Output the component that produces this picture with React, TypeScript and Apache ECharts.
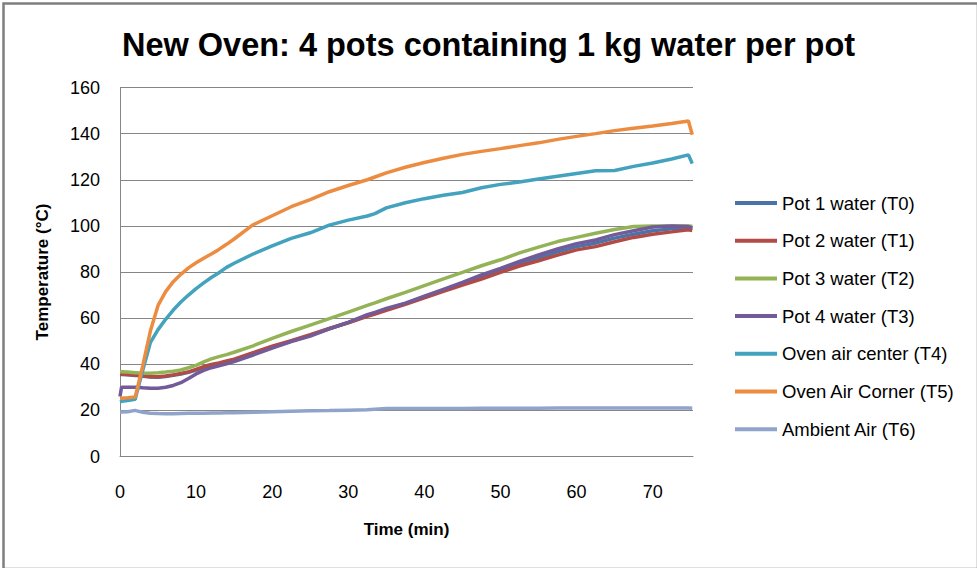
import React, { useEffect, useRef } from "react";
import * as echarts from "echarts";

const TITLE = "New Oven: 4 pots containing 1 kg water per pot";
const X_NAME = "Time (min)";
const Y_NAME = "Temperature (°C)";

const seriesNames = [
  "Pot 1 water (T0)",
  "Pot 2 water (T1)",
  "Pot 3 water (T2)",
  "Pot 4 water (T3)",
  "Oven air center (T4)",
  "Oven Air Corner (T5)",
  "Ambient Air (T6)",
];

const seriesColors = ["#4A74A8", "#B24A46", "#93B356", "#735A98", "#43A2BD", "#EC8C40", "#8FA3CB"];

// time in minutes
const time = [
  0, 0.2, 1, 2, 2.2, 3, 4, 5, 6, 7, 8, 9, 10, 11, 12, 13, 14, 15, 17.5, 20, 22.5, 25, 27.5, 30, 32.5, 33.5, 35,
  37.5, 40, 42.5, 45, 47.5, 50, 52.5, 55, 57.5, 60, 62.5, 65, 67.5, 70, 72.5, 74.7, 75.2,
];

const pot1 = [
  35.6, 35.6, 35.4, 35.1, 35.1, 34.8, 34.5, 34.4, 34.7, 35.2, 35.8, 36.5, 37.5, 38.6, 39.5, 40.2, 41, 41.8, 44.6, 47.4,
  50, 52.5, 55.4, 58.1, 61.1, 62.1, 63.8, 66.3, 69.2, 72, 74.9, 77.8, 80.7, 83.6, 86.2, 88.7, 91, 92.5, 94.7, 96.4, 97.9,
  98.7, 99, 98.5,
];

const pot2 = [
  35.8, 35.8, 35.6, 35.3, 35.3, 35, 34.6, 34.6, 34.9, 35.4, 36, 36.7, 37.8, 39, 39.9, 40.6, 41.4, 42.2, 45, 47.8, 50.2,
  52.8, 55.5, 58, 60.8, 61.8, 63.4, 66, 68.8, 71.6, 74.3, 76.9, 79.8, 82.6, 84.9, 87.3, 89.6, 91, 93.1, 95, 96.4, 97.4,
  98.3, 98,
];

const pot3 = [
  36.8, 36.8, 36.6, 36.3, 36.3, 36.1, 36.1, 36.3, 36.6, 37, 37.5, 38.5, 39.5, 41, 42.3, 43.3, 44.2, 45.2, 48, 51.2, 54.2,
  57, 59.8, 62.6, 65.5, 66.6, 68.4, 71.2, 74.1, 77, 79.8, 82.7, 85.3, 88.3, 90.8, 93.2, 95, 96.8, 98.4, 99.7, 100, 100,
  100, 99.8,
];

const pot4 = [
  26, 30, 30, 30, 30, 29.8, 29.6, 29.6, 30, 30.8, 32, 33.8, 35.8, 37.3, 38.5, 39.3, 40.2, 41.2, 44, 47, 49.8, 52.2, 55.3,
  58.2, 61.5, 62.5, 64.2, 66.5, 69.5, 72.5, 75.5, 78.7, 81.6, 84.6, 87.4, 90, 92.3, 93.9, 96.2, 97.9, 99.5, 99.9, 99.7,
  99,
];

const ovenCenter = [
  23.7, 23.9, 24.3, 24.8, 27.5, 37.5, 49.5, 55, 59.5, 63.5, 67, 70, 72.8, 75.3, 77.6, 79.7, 82, 83.8, 87.8, 91.3, 94.6,
  97, 100.3, 102.5, 104.3, 105.3, 107.8, 110, 111.8, 113.3, 114.5, 116.5, 118, 119, 120.3, 121.5, 122.7, 123.9, 124,
  125.8, 127.3, 129, 130.8, 127,
];

const ovenCorner = [
  25.3, 25.3, 25.5, 25.8, 28.5, 39.5, 54.5, 65.5, 71.5, 75.8, 79, 81.8, 84, 86, 87.8, 89.8, 92, 94.3, 100.5, 104.4, 108.3,
  111.4, 114.8, 117.5, 120, 121.2, 123, 125.4, 127.5, 129.3, 131, 132.3, 133.5, 134.8, 136, 137.5, 138.8, 140, 141.3,
  142.3, 143.3, 144.4, 145.5, 139.5,
];

const ambient = [
  19.3, 19.3, 19.4, 20, 19.8, 19.2, 18.8, 18.6, 18.5, 18.5, 18.6, 18.7, 18.8, 18.8, 18.9, 18.9, 19, 19, 19.2, 19.4, 19.6,
  19.8, 19.9, 20.1, 20.3, 20.5, 20.8, 20.8, 20.8, 20.8, 20.8, 20.9, 20.9, 20.9, 20.9, 21, 21, 21, 21, 21, 21, 21, 21,
  20.9,
];

const seriesValues = [pot1, pot2, pot3, pot4, ovenCenter, ovenCorner, ambient];

const FONT = '"Liberation Sans", Arial, sans-serif';
const GRID_COLOR = "#868686";

export default function App() {
  const ref = useRef<HTMLDivElement>(null);

  useEffect(() => {
    if (!ref.current) return;
    const chart = echarts.init(ref.current, undefined, { renderer: "svg" });

    const series = seriesNames.map((name, i) => ({
      name,
      type: "line",
      data: time.map((t, k) => [t, seriesValues[i][k]]),
      showSymbol: false,
      symbol: "none",
      smooth: false,
      color: seriesColors[i],
      lineStyle: { width: 3.5, color: seriesColors[i] },
      z: 2 + i,
    }));

    chart.setOption({
      animation: false,
      backgroundColor: "#ffffff",
      textStyle: { fontFamily: FONT },
      title: {
        text: TITLE,
        left: "center",
        top: 23,
        textStyle: { fontFamily: FONT, fontSize: 32.5, fontWeight: "bold", color: "#000000" },
      },
      legend: {
        orient: "vertical",
        left: 730,
        top: 188,
        icon: "rect",
        itemWidth: 42,
        itemHeight: 4,
        itemGap: 17.7,
        textStyle: { fontFamily: FONT, fontSize: 18.5, color: "#000000", lineHeight: 20 },
        data: seriesNames,
      },
      grid: { left: 120, top: 87.5, width: 573, height: 369, containLabel: false },
      xAxis: {
        type: "value",
        min: 0,
        max: 75.3,
        interval: 10,
        name: X_NAME,
        nameLocation: "middle",
        nameGap: 64,
        nameTextStyle: { fontFamily: FONT, fontSize: 17, fontWeight: "bold", color: "#000000" },
        axisLine: { show: true, lineStyle: { color: GRID_COLOR, width: 1 } },
        axisTick: { show: false },
        splitLine: { show: false },
        axisLabel: {
          margin: 26,
          fontFamily: FONT,
          fontSize: 18,
          color: "#000000",
          formatter: (v: number) => (Math.abs(v % 10) < 1e-9 ? String(v) : ""),
        },
      },
      yAxis: {
        type: "value",
        min: 0,
        max: 160,
        interval: 20,
        name: Y_NAME,
        nameLocation: "middle",
        nameGap: 69,
        nameTextStyle: { fontFamily: FONT, fontSize: 17, fontWeight: "bold", color: "#000000" },
        axisLine: { show: true, lineStyle: { color: GRID_COLOR, width: 1 } },
        axisTick: { show: false },
        splitLine: { show: true, lineStyle: { color: GRID_COLOR, width: 1 } },
        axisLabel: { margin: 20, fontFamily: FONT, fontSize: 18, color: "#000000" },
      },
      graphic: [
        {
          type: "rect",
          left: 1,
          top: 1,
          shape: { x: 0, y: 0, width: 974.5, height: 565.5 },
          style: { fill: "none", stroke: "#7f7f7f", lineWidth: 2.5 },
          silent: true,
          z: 100,
        },
      ],
      series,
    });

    return () => {
      chart.dispose();
    };
  }, []);

  return (
    <div
      ref={ref}
      style={{ position: "absolute", left: 0, top: 0, width: 977, height: 568, background: "#ffffff" }}
    />
  );
}
